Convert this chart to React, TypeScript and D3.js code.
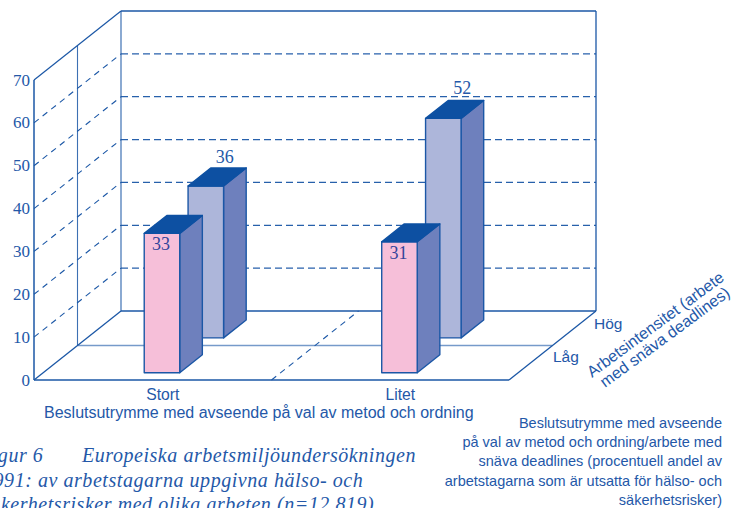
import React from "react";
import * as d3 from "d3";

const categories = ["Stort", "Litet"];
const depthLabels = ["Låg", "Hög"];
const lowValues = [33, 31];
const highValues = [36, 52];
const yTicks = [0, 10, 20, 30, 40, 50, 60, 70];
const gridTicks = [10, 20, 30, 40, 50, 60];
const xTitle = "Beslutsutrymme med avseende på val av metod och ordning";
const depthTitle = ["Arbetsintensitet (arbete", "med snäva deadlines)"];
const noteLines = [
  "Beslutsutrymme med avseende",
  "på val av metod och ordning/arbete med",
  "snäva deadlines (procentuell andel av",
  "arbetstagarna som är utsatta för hälso- och",
  "säkerhetsrisker)",
];
const captionParts = [
  { s: "Figur 6", x: -21, y: 461.5 },
  { s: "Europeiska arbetsmiljöundersökningen", x: 82, y: 461.5 },
  { s: "1991: av arbetstagarna uppgivna hälso- och", x: -17, y: 486.5 },
  { s: "säkerhetsrisker med olika arbeten (n=12 819)", x: -18, y: 511 },
];

const INK = "#1b57a6";
const TEXT = "#2458a8";
const TOP = "#0d50a2";
const PINK = "#f6bfd9";
const LILAC = "#adb6da";
const SIDE = "#6e80bd";
const SANS = "'Liberation Sans', Arial, sans-serif";
const SERIF = "'Liberation Serif', 'Times New Roman', serif";

const x0 = 34, x1 = 509, y0 = 380, yTop = 80;
const xScale = d3.scalePoint<string>().domain(categories).range([x0, x1]).padding(0.5);
const yScale = d3.scaleLinear().domain([0, 70]).range([y0, yTop]);
const DX = 87, DY = -69;
const barW = 35.5;
const barDepth = 0.26;
const proj = (x: number, t: number, v: number) =>
  [x + DX * t, yScale(v) + DY * t] as [number, number];
const line = d3.line();

function Bar({ cat, t, v, fill }: { cat: string; t: number; v: number; fill: string }) {
  const xl = xScale(cat)! - barW / 2;
  const xr = xl + barW;
  const h = 0.985;
  const a = proj(xl, t, 0), b = proj(xr, t, 0);
  const c = proj(xr, t, v * h), d = proj(xl, t, v * h);
  const e = proj(xr, t + barDepth, v * h), f = proj(xl, t + barDepth, v * h);
  const g = proj(xr, t + barDepth, 0);
  return (
    <g stroke={INK} strokeWidth={1.4} strokeLinejoin="round">
      <path d={line([b, c, e, g])! + "Z"} fill={SIDE} />
      <path d={line([a, b, c, d])! + "Z"} fill={fill} />
      <path d={line([d, c, e, f])! + "Z"} fill={TOP} stroke={TOP} />
    </g>
  );
}

export default function App() {
  const L = (pts: [number, number][], w = 1.2, o = 1, dash?: string) => (
    <path d={line(pts)!} fill="none" stroke={INK} strokeWidth={w} opacity={o} strokeDasharray={dash} />
  );
  const tLow = 0.106, tHigh = 0.61;
  return (
    <svg width={733} height={508} style={{ position: "absolute", left: 0, top: 0, background: "#fff" }}>
      {gridTicks.map((v) => (
        <g key={v}>
          {L([proj(x0, 0, v), proj(x0, 1, v)], 1.1, 1, "6 5")}
          {L([proj(x0, 1, v), proj(x1, 1, v)], 1.3, 0.95, "7 4")}
        </g>
      ))}
      {L([proj(x0, 0, 0), proj(x0, 0, 70)], 1.5)}
      {L([proj(x0, 0.5, 0), proj(x0, 0.5, 70)], 1.1, 0.85)}
      {L([proj(x0, 1, 0), proj(x0, 1, 70)], 1.2, 0.85)}
      {L([proj(x0, 0, 70), proj(x0, 1, 70)], 1.2)}
      {L([proj(x0, 1, 70), proj(x1, 1, 70)], 1.4)}
      {L([proj(x1, 1, 70), proj(x1, 1, 0)], 1.3)}
      {L([proj(x0, 1, 0), proj(x1, 1, 0)], 1.6)}
      {L([proj(x0, 0.5, 0), proj(x1, 0.5, 0)], 1.6, 0.6)}
      {L([proj(x0, 0, 0), proj(x0, 1, 0)], 1.3)}
      {L([proj(x1, 0, 0), proj(x1, 1, 0)], 1.3)}
      {L([proj(x0, 0, 0), proj(x1, 0, 0)], 1.8, 0.75)}
      {L([proj((x0 + x1) / 2, 0, 0), proj((x0 + x1) / 2, 1, 0)], 1.1, 1, "6 5")}
      {categories.map((c, i) => (
        <g key={c}>
          <Bar cat={c} t={tHigh} v={highValues[i]} fill={LILAC} />
          <Bar cat={c} t={tLow} v={lowValues[i]} fill={PINK} />
          <text x={proj(xScale(c)!, tHigh, 0)[0] + 19} y={proj(0, tHigh + barDepth, highValues[i])[1] - 3}
            textAnchor="middle" fontFamily={SERIF} fontSize={18} fill={TEXT}>{highValues[i]}</text>
          <text x={proj(xScale(c)!, tLow, 0)[0] - 1} y={proj(0, tLow, lowValues[i])[1] + 19}
            textAnchor="middle" fontFamily={SERIF} fontSize={18} fill="#33449a">{lowValues[i]}</text>
        </g>
      ))}
      {yTicks.map((v) => (
        <text key={v} x={30} y={yScale(v) + 5.5} textAnchor="end" fontFamily={SERIF} fontSize={17} fill={TEXT}>{v}</text>
      ))}
      {categories.map((c) => (
        <text key={c} x={xScale(c)! + 10} y={400} textAnchor="middle" fontFamily={SANS} fontSize={15.7} fill={TEXT}>{c}</text>
      ))}
      <text x={44} y={418} fontFamily={SANS} fontSize={16} fill={TEXT}>{xTitle}</text>
      <text x={553} y={362} fontFamily={SANS} fontSize={15.5} fill={TEXT}>{depthLabels[0]}</text>
      <text x={594} y={329} fontFamily={SANS} fontSize={15.5} fill={TEXT}>{depthLabels[1]}</text>
      <text transform="translate(592,378) rotate(-36.4)" fontFamily={SANS} fontSize={16} fill={TEXT}>{depthTitle[0]}</text>
      <text transform="translate(605,388) rotate(-36.4)" fontFamily={SANS} fontSize={16} fill={TEXT}>{depthTitle[1]}</text>
      {noteLines.map((s, i) => (
        <text key={i} x={722} y={428 + i * 19.2} textAnchor="end" fontFamily={SANS} fontSize={14.5} fill={TEXT}>{s}</text>
      ))}
      {captionParts.map((p, i) => (
        <text key={i} x={p.x} y={p.y} fontFamily={SERIF} fontStyle="italic" fontSize={20} letterSpacing={0.55} fill={TEXT}>{p.s}</text>
      ))}
    </svg>
  );
}
